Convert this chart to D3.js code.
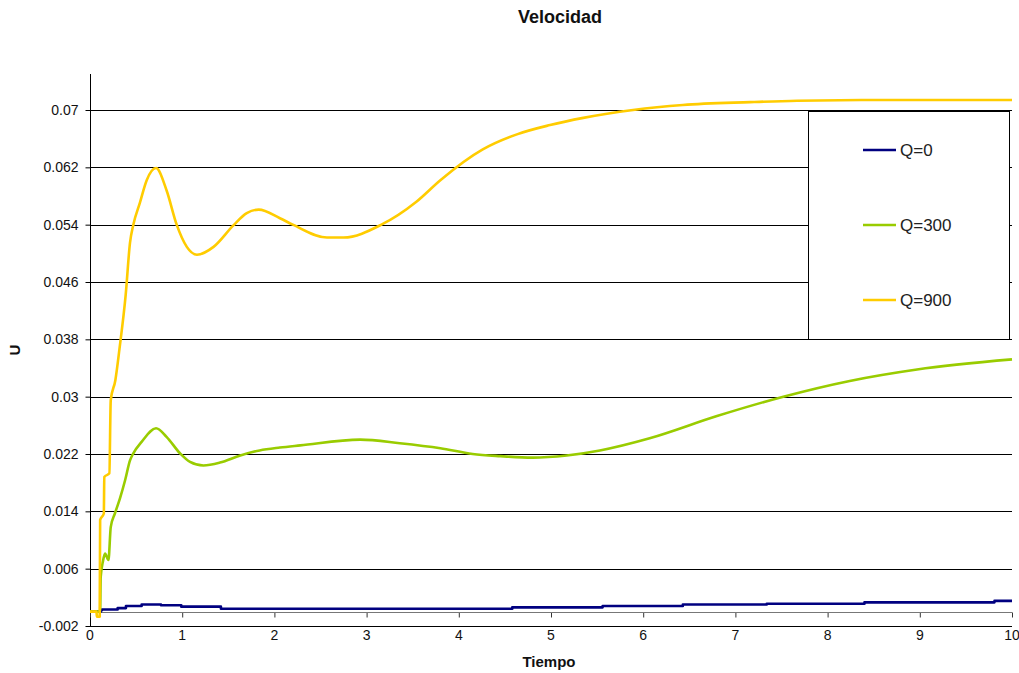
<!DOCTYPE html>
<html>
<head>
<meta charset="utf-8">
<script src="https://cdn.jsdelivr.net/npm/d3@7"></script>
<style>
  html, body { margin: 0; padding: 0; background: #fff; }
  svg { display: block; font-family: "Liberation Sans", Arial, sans-serif; }
</style>
</head>
<body>
<svg id="chart" width="1019" height="673"></svg>
<script>
// Time samples and velocity values for each heat-input case
const tQ0   = [0, 0.115, 0.13, 0.3, 0.39, 0.56, 0.77, 0.99, 1.42, 4.58, 5.56, 6.43, 7.34, 8.40, 9.81, 10];
const uQ0   = [0, 0.0002, 0.0003, 0.0005, 0.0008, 0.0010, 0.0009, 0.0007, 0.0004, 0.0006, 0.0008, 0.0010, 0.0011, 0.0013, 0.0015, 0.0015];

const tQ300 = [0, 0.11, 0.116, 0.14, 0.163, 0.2, 0.225, 0.27, 0.325, 0.38, 0.434, 0.47, 0.56, 0.716, 0.83, 0.976,
               1.085, 1.23, 1.41, 1.63, 1.84, 2.06, 2.28, 2.93, 3.36, 3.80, 4.15, 4.45, 4.80, 5.17, 5.53, 6.07,
               6.80, 7.52, 8.24, 8.97, 10];
const uQ300 = [0, 0, 0.0048, 0.0070, 0.0081, 0.0072, 0.0118, 0.0137, 0.0158, 0.0183, 0.0211, 0.0221, 0.0237, 0.0256, 0.0244, 0.0221,
               0.0209, 0.0204, 0.0208, 0.0218, 0.0225, 0.0229, 0.0232, 0.0240, 0.0235, 0.0228, 0.0220, 0.0217, 0.0215, 0.0218, 0.0225, 0.0242,
               0.0273, 0.0300, 0.0322, 0.0338, 0.0352];

const tQ900 = [0, 0.07, 0.075, 0.105, 0.11, 0.15, 0.155, 0.21, 0.225, 0.275, 0.32, 0.387, 0.434, 0.47, 0.54, 0.615,
               0.716, 0.83, 0.94, 1.05, 1.16, 1.34, 1.555, 1.70, 1.83, 2.06, 2.2, 2.57, 2.75, 3.16, 3.54, 3.8,
               4.26, 4.63, 4.99, 5.35, 5.89, 6.43, 7.16, 7.67, 8.5, 10];
const uQ900 = [0, 0, -0.0007, -0.0007, 0.0128, 0.0137, 0.0188, 0.0193, 0.0295, 0.0323, 0.0367, 0.0442, 0.0515, 0.0540, 0.0570, 0.0602,
               0.0619, 0.0588, 0.0540, 0.0509, 0.0498, 0.0509, 0.0539, 0.0556, 0.0561, 0.0549, 0.0540, 0.0522, 0.0522, 0.0540, 0.0572, 0.0602,
               0.0645, 0.0666, 0.0679, 0.0689, 0.0700, 0.0707, 0.0711, 0.0713, 0.0714, 0.0714];

const seriesNames  = ["Q=0", "Q=300", "Q=900"];
const seriesColors = ["#000080", "#99CC00", "#FFCC00"];

const xTicks = [0, 1, 2, 3, 4, 5, 6, 7, 8, 9, 10];
const yTicks = [-0.002, 0.006, 0.014, 0.022, 0.03, 0.038, 0.046, 0.054, 0.062, 0.07];

const chartTitle = "Velocidad";
const xTitle = "Tiempo";
const yTitle = "U";

const series = [
  { name: seriesNames[0], color: seriesColors[0], step: true,  pts: tQ0.map((t, i) => [t, uQ0[i]]) },
  { name: seriesNames[1], color: seriesColors[1], step: false, pts: tQ300.map((t, i) => [t, uQ300[i]]) },
  { name: seriesNames[2], color: seriesColors[2], step: false, pts: tQ900.map((t, i) => [t, uQ900[i]]) }
];

const svg = d3.select("#chart");

const plotLeft = 90, plotRight = 1012, plotTop = 110, plotBottom = 626, axisTop = 74;
const x = d3.scaleLinear().domain([0, 10]).range([plotLeft, plotRight]);
const y = d3.scaleLinear().domain([-0.002, 0.07]).range([plotBottom, plotTop]);

// horizontal gridlines
svg.append("g")
  .selectAll("line")
  .data(yTicks)
  .join("line")
  .attr("x1", plotLeft).attr("x2", plotRight)
  .attr("y1", d => Math.round(y(d)) + 0.5).attr("y2", d => Math.round(y(d)) + 0.5)
  .attr("stroke", "#000").attr("stroke-width", 1);

// value axis (left)
const yAxis = d3.axisLeft(y)
  .tickValues(yTicks)
  .tickSize(5)
  .tickPadding(7)
  .tickFormat(d => String(+d.toFixed(3)));
const gy = svg.append("g").attr("transform", `translate(${plotLeft + 0.5},0)`).call(yAxis);
gy.select(".domain").remove();
gy.selectAll(".tick line").attr("stroke", "#000");
gy.selectAll(".tick text")
  .attr("font-size", 14).attr("fill", "#111")
  .attr("font-family", "Liberation Sans, Arial, sans-serif");
svg.append("line")
  .attr("x1", plotLeft + 0.5).attr("x2", plotLeft + 0.5)
  .attr("y1", axisTop).attr("y2", plotBottom + 1)
  .attr("stroke", "#000");

// category axis crossing at zero
const y0 = Math.round(y(0)) + 0.5;
const xAxis = d3.axisBottom(x).tickValues(xTicks).tickSize(5).tickFormat(d3.format("d"));
const gx = svg.append("g").attr("transform", `translate(0,${y0})`).call(xAxis);
gx.select(".domain").remove();
gx.selectAll(".tick text").remove();
gx.selectAll(".tick line").attr("stroke", "#333");
svg.append("line")
  .attr("x1", plotLeft).attr("x2", plotRight)
  .attr("y1", y0).attr("y2", y0)
  .attr("stroke", "#777").attr("stroke-width", 1);

// x tick labels below the plot floor
svg.append("g")
  .selectAll("text")
  .data(xTicks)
  .join("text")
  .attr("x", d => x(d))
  .attr("y", 640)
  .attr("text-anchor", "middle")
  .attr("font-size", 14)
  .attr("fill", "#111")
  .text(d => d);

// series lines
series.forEach(s => {
  const line = d3.line()
    .x(d => x(d[0]))
    .y(d => y(d[1]))
    .curve(s.step ? d3.curveStepAfter : d3.curveMonotoneX);
  svg.append("path")
    .datum(s.pts)
    .attr("d", line)
    .attr("fill", "none")
    .attr("stroke", s.color)
    .attr("stroke-width", 2.6)
    .attr("stroke-linejoin", "round");
});

// legend
const lg = svg.append("g");
lg.append("rect")
  .attr("x", 808.5).attr("y", 111.5).attr("width", 201).attr("height", 228)
  .attr("fill", "#fff").attr("stroke", "#000").attr("stroke-width", 1);
const legendY = [150, 225, 300];
series.forEach((s, i) => {
  lg.append("line")
    .attr("x1", 863).attr("x2", 896)
    .attr("y1", legendY[i]).attr("y2", legendY[i])
    .attr("stroke", s.color).attr("stroke-width", 2.6);
  lg.append("text")
    .attr("x", 900).attr("y", legendY[i] + 6)
    .attr("font-size", 17).attr("fill", "#222")
    .text(s.name);
});

// titles
svg.append("text")
  .attr("x", 560).attr("y", 23)
  .attr("text-anchor", "middle")
  .attr("font-size", 18).attr("font-weight", "bold").attr("fill", "#111")
  .text(chartTitle);

svg.append("text")
  .attr("x", 549).attr("y", 667)
  .attr("text-anchor", "middle")
  .attr("font-size", 15).attr("font-weight", "bold").attr("fill", "#111")
  .text(xTitle);

svg.append("text")
  .attr("transform", "translate(20,350) rotate(-90)")
  .attr("text-anchor", "middle")
  .attr("font-size", 15).attr("font-weight", "bold").attr("fill", "#111")
  .text(yTitle);
</script>
</body>
</html>
